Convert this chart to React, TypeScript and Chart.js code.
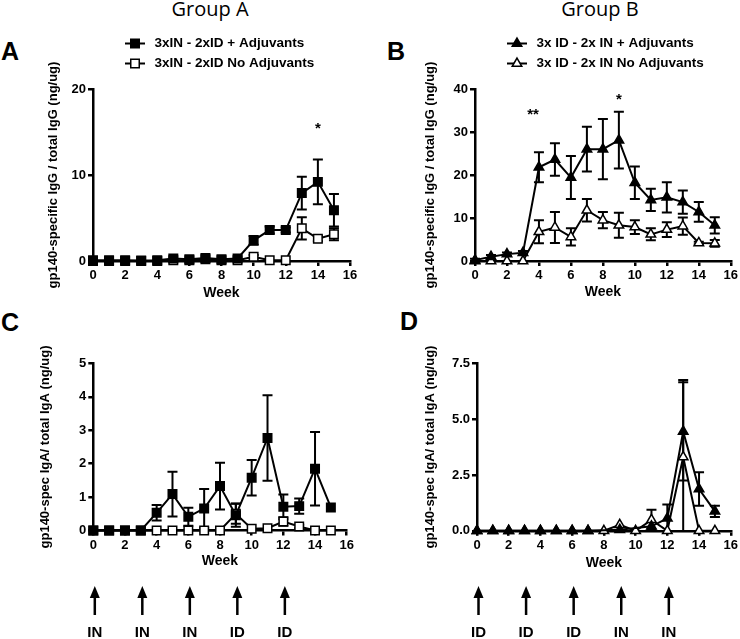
import React, { useEffect, useRef } from "react";
import { Chart, registerables } from "chart.js";

Chart.register(...registerables);
Chart.defaults.color = "#000";
Chart.defaults.font.family = "'Liberation Sans', Arial, sans-serif";

// ---------------- data ----------------
const weeks = [0, 1, 2, 3, 4, 5, 6, 7, 8, 9, 10, 11, 12, 13, 14, 15];

// Panel A: Group A, IgG
const aAdjMean = [0.1, 0.1, 0.1, 0.05, 0.1, 0.3, 0.2, 0.35, 0.2, 0.3, 2.4, 3.6, 3.6, 7.9, 9.2, 5.9];
const aAdjErr = [0, 0, 0, 0, 0, 0, 0, 0, 0, 0, 0.5, 0.4, 0.3, 1.9, 2.6, 1.9];
const aNoMean = [0, 0, 0, 0, 0, 0.1, 0.1, 0.2, 0.1, 0.1, 0.5, 0.1, 0.1, 3.8, 2.6, 3.1];
const aNoErr = [0, 0, 0, 0, 0, 0, 0, 0, 0, 0, 0.2, 0, 0, 1.3, 0.3, 0.7];

// Panel B: Group B, IgG
const bAdjMean = [0.2, 1.0, 1.6, 1.9, 21.8, 23.6, 19.4, 26.0, 26.0, 28.1, 18.2, 14.2, 14.8, 13.7, 11.4, 8.3];
const bAdjErr = [0.3, 0.4, 0.4, 0.4, 3.5, 3.8, 5.0, 5.2, 7.0, 6.6, 3.8, 2.6, 3.5, 2.7, 2.3, 1.9];
const bNoMean = [0, 0, 0, 0, 6.8, 7.8, 5.6, 11.8, 9.5, 8.3, 7.9, 6.2, 7.3, 8.1, 4.2, 4.1];
const bNoErr = [0, 0, 0, 0, 2.7, 3.6, 2.0, 2.6, 1.9, 2.9, 1.6, 1.4, 1.7, 2.0, 0.3, 0.8];

// Panel C: Group A, IgA
const cAdjMean = [0, 0, 0, 0, 0.53, 1.09, 0.41, 0.66, 1.33, 0.46, 1.58, 2.77, 0.71, 0.73, 1.85, 0.69];
const cAdjErr = [0, 0, 0, 0, 0.23, 0.67, 0.27, 0.58, 0.7, 0.35, 0.53, 1.28, 0.37, 0.23, 1.1, 0];
const cNoMean = [0, 0, 0, 0, 0, 0, 0, 0, 0, 0.5, 0.05, 0.07, 0.27, 0.12, 0, 0];
const cNoErr = [0, 0, 0, 0, 0, 0, 0, 0, 0, 0.3, 0, 0, 0.13, 0.05, 0, 0];

// Panel D: Group B, IgA
const dAdjMean: (number | null)[] = [0, 0, 0, 0, 0, 0, 0, 0, null, 0.05, null, 0.2, 0.56, 4.45, 1.87, 0.87];
const dAdjErr = [0, 0, 0, 0, 0, 0, 0, 0, 0, 0, 0, 0, 0.62, 2.2, 0.75, 0.25];
const dNoMean = [0, 0, 0, 0, 0, 0, 0, 0, 0, 0.27, 0, 0.49, 0, 3.3, 0, 0];
const dNoErr = [0, 0, 0, 0, 0, 0, 0, 0, 0, 0, 0, 0.45, 0, 3.45, 0, 0];

// ticks
const xTicks = [0, 2, 4, 6, 8, 10, 12, 14, 16];
const aYTicks = [0, 10, 20];
const bYTicks = [0, 10, 20, 30, 40];
const cYTicks = [0, 1, 2, 3, 4, 5];
const dYTicks = [0, 2.5, 5, 7.5];

// text
const groupTitles = ["Group A", "Group B"];
const panelLetters = ["A", "B", "C", "D"];
const legendA = ["3xIN - 2xID + Adjuvants", "3xIN - 2xID No Adjuvants"];
const legendB = ["3x ID - 2x IN + Adjuvants", "3x ID - 2x IN No Adjuvants"];
const yTitleIgG = "gp140-specific IgG / total IgG (ng/ug)";
const yTitleIgA = "gp140-spec IgA/ total IgA (ng/ug)";
const xTitle = "Week";

// significance marks
const starsA = [{ x: 14, y: 15.8, text: "*" }];
const starsB = [
  { x: 3.63, y: 34.7, text: "**" },
  { x: 9, y: 38.2, text: "*" },
];

// immunisation schedule
const arrowWeeks = [0, 3, 6, 9, 12];
const arrowLabelsA = ["IN", "IN", "IN", "ID", "ID"];
const arrowLabelsB = ["ID", "ID", "ID", "IN", "IN"];

// ---------------- layout ----------------
type Rect = { left: number; top: number; w: number; h: number };
type Plot = { l: number; r: number; t: number; b: number };
type Series = { mean: (number | null)[]; err: number[]; style: "rect" | "triangle"; filled: boolean };
type Star = { x: number; y: number; text: string };
interface PanelCfg {
  canvas: Rect;
  plot: Plot;
  yTitleX: number;
  weekY: number;
  yTicks: number[];
  yDecimals: number;
  yTitle: string;
  series: Series[];
  legend?: string[];
  stars?: Star[];
  arrows?: string[];
}

const FONT = "'Liberation Sans', Arial, sans-serif";
const ARROW_TIP_Y = 586;
const ARROW_TAIL_Y = 615;
const ARROW_LABEL_Y = 633;

const panels: PanelCfg[] = [
  {
    canvas: { left: 0, top: 0, w: 370, h: 310 },
    plot: { l: 93, r: 350, t: 89, b: 261 },
    yTitleX: 53,
    weekY: 293,
    yTicks: aYTicks,
    yDecimals: 0,
    yTitle: yTitleIgG,
    series: [
      { mean: aAdjMean, err: aAdjErr, style: "rect", filled: true },
      { mean: aNoMean, err: aNoErr, style: "rect", filled: false },
    ],
    legend: legendA,
    stars: starsA,
  },
  {
    canvas: { left: 370, top: 0, w: 370, h: 310 },
    plot: { l: 475, r: 732, t: 89, b: 261 },
    yTitleX: 430,
    weekY: 292,
    yTicks: bYTicks,
    yDecimals: 0,
    yTitle: yTitleIgG,
    series: [
      { mean: bAdjMean, err: bAdjErr, style: "triangle", filled: true },
      { mean: bNoMean, err: bNoErr, style: "triangle", filled: false },
    ],
    legend: legendB,
    stars: starsB,
  },
  {
    canvas: { left: 0, top: 305, w: 370, h: 334 },
    plot: { l: 93.3, r: 346.7, t: 363.5, b: 530.5 },
    yTitleX: 45,
    weekY: 561,
    yTicks: cYTicks,
    yDecimals: 0,
    yTitle: yTitleIgA,
    series: [
      { mean: cAdjMean, err: cAdjErr, style: "rect", filled: true },
      { mean: cNoMean, err: cNoErr, style: "rect", filled: false },
    ],
    arrows: arrowLabelsA,
  },
  {
    canvas: { left: 370, top: 305, w: 370, h: 334 },
    plot: { l: 477, r: 732.5, t: 363.3, b: 530.8 },
    yTitleX: 430,
    weekY: 563,
    yTicks: dYTicks,
    yDecimals: 1,
    yTitle: yTitleIgA,
    series: [
      { mean: dAdjMean, err: dAdjErr, style: "triangle", filled: true },
      { mean: dNoMean, err: dNoErr, style: "triangle", filled: false },
    ],
    arrows: arrowLabelsB,
  },
];

function drawMarker(ctx: CanvasRenderingContext2D, style: string, x: number, y: number, filled: boolean) {
  ctx.save();
  ctx.beginPath();
  if (style === "rect") {
    const h = 4.25;
    ctx.rect(x - h, y - h, 2 * h, 2 * h);
  } else {
    const r = 5.5;
    for (let k = 0; k < 3; k++) {
      const a = (k * 2 * Math.PI) / 3;
      const px = x + Math.sin(a) * r;
      const py = y - Math.cos(a) * r;
      if (k === 0) ctx.moveTo(px, py);
      else ctx.lineTo(px, py);
    }
    ctx.closePath();
  }
  ctx.fillStyle = filled ? "#000" : "#fff";
  ctx.fill();
  ctx.lineWidth = 1.5;
  ctx.strokeStyle = "#000";
  ctx.stroke();
  ctx.restore();
}

function Panel({ cfg }: { cfg: PanelCfg }) {
  const ref = useRef<HTMLCanvasElement>(null);

  useEffect(() => {
    const c = cfg;
    const yTitleOffset = (13 * 1.2) / 2 + 4;
    const xTitleOffset = (14 * 1.2) / 2 + 4;
    const padLeft = c.yTitleX - c.canvas.left - yTitleOffset;
    const yW = c.plot.l - c.canvas.left - padLeft;
    const padTop = c.plot.t - c.canvas.top;
    const padRight = c.canvas.left + c.canvas.w - c.plot.r;
    const xScaleBottom = c.weekY - c.canvas.top + xTitleOffset;
    const xH = xScaleBottom - (c.plot.b - c.canvas.top);
    const padBottom = c.canvas.h - xScaleBottom;

    const errorBars = {
      id: "errorBars",
      beforeDatasetsDraw(chart: any) {
        const { ctx, scales } = chart;
        const xs = scales.x;
        const ys = scales.y;
        ctx.save();
        ctx.strokeStyle = "#000";
        ctx.lineWidth = 2;
        chart.data.datasets.forEach((ds: any) => {
          const errs: number[] = ds.errors || [];
          ds.data.forEach((p: any, i: number) => {
            const e = errs[i];
            if (p.y == null || !e) return;
            const px = xs.getPixelForValue(p.x);
            const top = ys.getPixelForValue(p.y + e);
            const lowVal = p.y - e;
            const bot = ys.getPixelForValue(Math.max(lowVal, ys.min));
            ctx.beginPath();
            ctx.moveTo(px, top);
            ctx.lineTo(px, bot);
            ctx.moveTo(px - 5, top);
            ctx.lineTo(px + 5, top);
            if (lowVal > ys.min) {
              ctx.moveTo(px - 5, bot);
              ctx.lineTo(px + 5, bot);
            }
            ctx.stroke();
          });
        });
        ctx.restore();
      },
    };

    const extras = {
      id: "extras",
      afterDraw(chart: any) {
        const { ctx, chartArea, scales } = chart;
        const xs = scales.x;
        const ys = scales.y;
        // legend
        if (c.legend) {
          const offs = [-45.5, -25.5];
          c.legend.forEach((label, i) => {
            const s = c.series[i];
            const y = chartArea.top + offs[i];
            const x0 = chartArea.left + 32;
            ctx.save();
            ctx.strokeStyle = "#000";
            ctx.lineWidth = 2;
            ctx.beginPath();
            ctx.moveTo(x0, y);
            ctx.lineTo(x0 + 20, y);
            ctx.stroke();
            ctx.restore();
            drawMarker(ctx, s.style, x0 + 10, y, s.filled);
            ctx.save();
            ctx.fillStyle = "#000";
            ctx.font = `bold 13.5px ${FONT}`;
            ctx.textBaseline = "middle";
            ctx.textAlign = "left";
            ctx.fillText(label, x0 + 29.5, y);
            ctx.restore();
          });
        }
        // stars
        if (c.stars) {
          ctx.save();
          ctx.fillStyle = "#000";
          ctx.font = `bold 15px ${FONT}`;
          ctx.textAlign = "center";
          ctx.textBaseline = "middle";
          c.stars.forEach((s) => {
            ctx.fillText(s.text, xs.getPixelForValue(s.x), ys.getPixelForValue(s.y) + 0.225 * 15);
          });
          ctx.restore();
        }
        // arrows
        if (c.arrows) {
          const tip = ARROW_TIP_Y - c.canvas.top;
          const tail = ARROW_TAIL_Y - c.canvas.top;
          const lab = ARROW_LABEL_Y - c.canvas.top;
          ctx.save();
          ctx.fillStyle = "#000";
          ctx.strokeStyle = "#000";
          ctx.font = `bold 15px ${FONT}`;
          ctx.textAlign = "center";
          ctx.textBaseline = "middle";
          c.arrows.forEach((label, i) => {
            const px = xs.getPixelForValue(arrowWeeks[i]) + 1.5;
            ctx.lineWidth = 2.5;
            ctx.beginPath();
            ctx.moveTo(px, tail);
            ctx.lineTo(px, tip + 8);
            ctx.stroke();
            ctx.beginPath();
            ctx.moveTo(px, tip);
            ctx.lineTo(px - 5, tip + 12);
            ctx.lineTo(px + 5, tip + 12);
            ctx.closePath();
            ctx.fill();
            ctx.fillText(label, px, lab);
          });
          ctx.restore();
        }
      },
    };

    const yt = c.yTicks;
    const chart = new Chart(ref.current as HTMLCanvasElement, {
      type: "line",
      data: {
        datasets: c.series.map((s, i) => ({
          label: c.legend ? c.legend[i] : String(i),
          data: weeks.map((w, k) => ({ x: w, y: s.mean[k] })),
          errors: s.err,
          borderColor: "#000",
          backgroundColor: s.filled ? "#000" : "#fff",
          borderWidth: 2,
          pointStyle: s.style,
          pointRadius: s.style === "rect" ? 6 : 5.5,
          pointBackgroundColor: s.filled ? "#000" : "#fff",
          pointBorderColor: "#000",
          pointBorderWidth: 1.5,
          fill: false,
          tension: 0,
          spanGaps: true,
          clip: false,
        })) as any,
      },
      options: {
        responsive: false,
        animation: false,
        events: [],
        layout: { padding: { left: padLeft, right: padRight, top: padTop, bottom: padBottom } },
        plugins: {
          legend: { display: false },
          tooltip: { enabled: false },
          title: { display: false },
        },
        scales: {
          x: {
            type: "linear",
            min: xTicks[0],
            max: xTicks[xTicks.length - 1],
            ticks: {
              stepSize: xTicks[1] - xTicks[0],
              font: { size: 13, weight: "bold" },
              color: "#000",
              padding: 2,
              maxRotation: 0,
            },
            grid: { drawOnChartArea: false, drawTicks: true, tickLength: 5, color: "#000", lineWidth: 2.5 },
            border: { color: "#000", width: 2.5 },
            title: {
              display: true,
              text: xTitle,
              color: "#000",
              font: { size: 14, weight: "bold" },
              padding: { top: 0, bottom: 4 },
            },
            afterFit: (s: any) => {
              s.height = xH;
            },
          },
          y: {
            type: "linear",
            min: yt[0],
            max: yt[yt.length - 1],
            ticks: {
              stepSize: yt[1] - yt[0],
              font: { size: 13, weight: "bold" },
              color: "#000",
              padding: 2,
              callback: (v: any) => Number(v).toFixed(c.yDecimals),
            },
            grid: { drawOnChartArea: false, drawTicks: true, tickLength: 5, color: "#000", lineWidth: 2.5 },
            border: { color: "#000", width: 2.5 },
            title: {
              display: true,
              text: c.yTitle,
              color: "#000",
              font: { size: 13, weight: "bold" },
              padding: { top: 4, bottom: 4 },
            },
            afterFit: (s: any) => {
              s.width = yW;
            },
          },
        },
      } as any,
      plugins: [errorBars, extras],
    });
    return () => chart.destroy();
  }, [cfg]);

  return (
    <canvas
      ref={ref}
      width={cfg.canvas.w}
      height={cfg.canvas.h}
      style={{
        position: "absolute",
        left: cfg.canvas.left,
        top: cfg.canvas.top,
        width: cfg.canvas.w,
        height: cfg.canvas.h,
      }}
    />
  );
}

const letterPos = [
  { left: 1, cy: 51.5 },
  { left: 387, cy: 51.5 },
  { left: 1, cy: 322 },
  { left: 400, cy: 321 },
];
const groupPos = [
  { cx: 210, cy: 10 },
  { cx: 600, cy: 10 },
];

export default function App() {
  return (
    <div
      style={{
        position: "absolute",
        left: 0,
        top: 0,
        width: 740,
        height: 639,
        background: "#fff",
        overflow: "hidden",
      }}
    >
      {groupTitles.map((t, i) => (
        <div
          key={t}
          style={{
            position: "absolute",
            left: groupPos[i].cx,
            top: groupPos[i].cy - 0.531 * 20,
            transform: "translateX(-50%)",
            fontFamily: "'Open Sans', sans-serif",
            fontSize: 20,
            lineHeight: "20px",
            whiteSpace: "nowrap",
            color: "#000",
          }}
        >
          {t}
        </div>
      ))}
      {panelLetters.map((t, i) => (
        <div
          key={t}
          style={{
            position: "absolute",
            left: letterPos[i].left,
            top: letterPos[i].cy - 0.4885 * 25,
            fontFamily: FONT,
            fontWeight: "bold",
            fontSize: 25,
            lineHeight: "25px",
            color: "#000",
          }}
        >
          {t}
        </div>
      ))}
      {panels.map((p, i) => (
        <Panel key={i} cfg={p} />
      ))}
    </div>
  );
}
